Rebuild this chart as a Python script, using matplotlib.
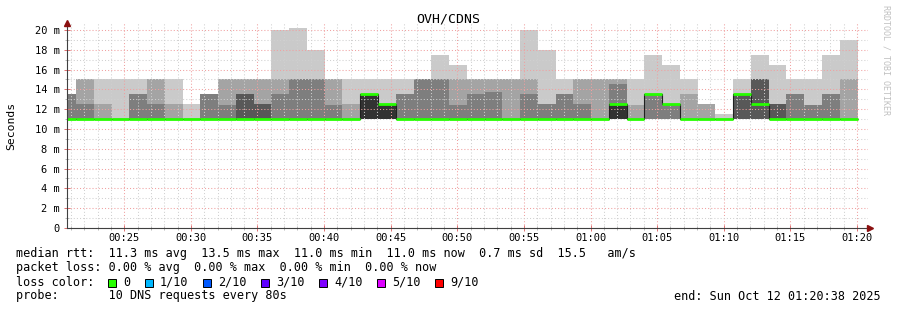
import numpy as np
import matplotlib.pyplot as plt
from matplotlib.patches import Rectangle
from matplotlib.ticker import MultipleLocator, FuncFormatter

plt.rcParams['font.family'] = ['DejaVu Sans Mono', 'DejaVu Sans']

W, H = 897, 310

# time axis in minutes after midnight, one sample every 80 s
step_min = 80 / 60
first_start = 20.045
window = (20.70, 80.83)

# 10 sorted ping times (ms) per 80 s step
pings = [
    [11]*7 + [13.5, 13.5, 13.5],
    [11]*7 + [12.5, 15, 15],
    [11]*8 + [12.5, 15],
    [11]*9 + [15],
    [11]*7 + [13.5, 13.5, 15],
    [11]*7 + [12.5, 15, 15],
    [11]*8 + [12.5, 15],
    [11]*9 + [12.5],
    [11]*7 + [13.5, 13.5, 13.5],
    [11]*7 + [12.4, 15, 15],
    [11]*6 + [13.5, 13.5, 15, 15],
    [11]*6 + [12.5, 12.5, 15, 15],
    [11]*7 + [13.5, 15, 20],
    [11]*7 + [15, 15, 20.2],
    [11]*7 + [15, 15, 18],
    [11]*7 + [12.4, 15, 15],
    [11]*8 + [12.5, 15],
    [11]*5 + [13.5, 13.5, 13.5, 13.5, 15],
    [11]*5 + [12.5, 12.5, 12.5, 12.5, 15],
    [11]*7 + [13.5, 13.5, 15],
    [11]*7 + [15, 15, 15],
    [11]*7 + [15, 15, 17.5],
    [11]*7 + [12.4, 15, 16.5],
    [11]*7 + [13.5, 15, 15],
    [11]*7 + [13.7, 15, 15],
    [11]*8 + [15, 15],
    [11]*7 + [13.5, 15, 20],
    [11]*7 + [12.5, 12.5, 18],
    [11]*7 + [13.5, 13.5, 15],
    [11]*7 + [12.5, 15, 15],
    [11]*8 + [15, 15],
    [11]*5 + [12.5, 12.5, 14.5, 15, 15],
    [11]*8 + [12.4, 15],
    [11]*3 + [13.5]*6 + [17.5],
    [11]*3 + [12.5]*6 + [16.5],
    [11]*8 + [13.5, 15],
    [11]*8 + [12.5, 12.5],
    [11]*9 + [11.5],
    [11]*4 + [13.5]*5 + [15],
    [11]*4 + [12.5, 12.5, 15, 15, 15, 17.5],
    [11]*6 + [12.5, 12.5, 12.5, 16.5],
    [11]*7 + [13.5, 13.5, 15],
    [11]*7 + [12.4, 12.4, 15],
    [11]*7 + [13.5, 13.5, 17.5],
    [11]*8 + [15, 19],
]

median = [11]*17 + [13.5, 12.5] + [11]*12 + [12.5, 11, 13.5, 12.5] + [11]*3 + [13.5, 12.5] + [11]*5

smoke_colors = ['#cacaca', '#a4a4a4', '#7e7e7e', '#585858', '#323232']
loss_labels = ['0', '1/10', '2/10', '3/10', '4/10', '5/10', '9/10']
loss_colors = ['#26ff00', '#00b8ff', '#0059ff', '#5e00ff', '#7e00ff', '#dd00ff', '#ff0000']

title = "OVH/CDNS"
stats_rtt = "median rtt:  11.3 ms avg  13.5 ms max  11.0 ms min  11.0 ms now  0.7 ms sd  15.5   am/s"
stats_loss = "packet loss: 0.00 % avg  0.00 % max  0.00 % min  0.00 % now"
probe_txt = "probe:       10 DNS requests every 80s"
end_txt = "end: Sun Oct 12 01:20:38 2025"

fig = plt.figure(figsize=(W/100, H/100), dpi=100)
ax = fig.add_axes([67/W, 82/H, 801/W, 205/H])

P = np.array(pings, dtype=float)
n = len(P)
edges = first_start + step_min*np.arange(n + 1)

# smoke: band between i-th lowest and i-th highest ping
for i, c in enumerate(smoke_colors):
    lo = P[:, i]
    hi = P[:, 9 - i]
    ax.fill_between(edges, np.append(lo, lo[-1]), np.append(hi, hi[-1]),
                    step='post', color=c, lw=0, zorder=1)

ax.stairs(median, edges, baseline=None, color='#202020', lw=0.8, zorder=3)
ax.hlines(median, edges[:-1], edges[1:], color=loss_colors[0], lw=2.0, zorder=4)

ax.set_xlim(*window)
ax.set_ylim(0, 20.7)
ax.xaxis.set_major_locator(MultipleLocator(5))
ax.xaxis.set_minor_locator(MultipleLocator(1))
ax.yaxis.set_major_locator(MultipleLocator(2))
ax.yaxis.set_minor_locator(MultipleLocator(1))
ax.xaxis.set_major_formatter(FuncFormatter(lambda v, p: "%02d:%02d" % (int(round(v)) // 60, int(round(v)) % 60)))
ax.yaxis.set_major_formatter(FuncFormatter(lambda v, p: "0" if v == 0 else "%g m" % v))

ax.set_axisbelow(False)
ax.grid(which='major', color='#f0a0a0', ls=(0, (1, 2)), lw=0.75)
ax.grid(which='minor', color='#d0d0d0', ls=(0, (1, 2)), lw=0.75)
ax.tick_params(which='major', direction='inout', length=4, width=0.7, color='#e07070',
               labelsize=7.5, pad=1.5)
ax.tick_params(axis='y', which='major', pad=3)
ax.tick_params(which='minor', direction='inout', length=3, width=0.7, color='#b8b8b8')

for s in ['top', 'right']:
    ax.spines[s].set_visible(False)
for s in ['left', 'bottom']:
    ax.spines[s].set_color('#404040')
    ax.spines[s].set_linewidth(0.8)
    ax.spines[s].set_zorder(5)

ax.plot([0], [1], marker='^', ms=4, color='#8b1010', transform=ax.transAxes, clip_on=False, zorder=6)
ax.plot([1.003], [0], marker='>', ms=4, color='#8b1010', transform=ax.transAxes, clip_on=False, zorder=6)

fig.text(448/W, 1 - 19/H, title, ha='center', va='center', fontsize=9.5)
fig.text(11/W, 1 - 126/H, 'Seconds', rotation=90, ha='center', va='center', fontsize=8.2)
fig.text(886/W, 1 - 60/H, 'RRDTOOL / TOBI OETIKER', rotation=270, ha='center', va='center',
         fontsize=6, color='#c0c0c0')

fs = 8.5
fig.text(16/W, 1 - 254/H, stats_rtt, va='center', fontsize=fs)
fig.text(16/W, 1 - 268/H, stats_loss, va='center', fontsize=fs)
fig.text(16/W, 1 - 282/H, "loss color:", va='center', fontsize=fs)
fig.text(16/W, 1 - 296/H, probe_txt, va='center', fontsize=fs)
fig.text(881/W, 1 - 296/H, end_txt, ha='right', va='center', fontsize=fs)

x = 108
for lab, col in zip(loss_labels, loss_colors):
    fig.patches.append(Rectangle((x/W, 1 - 286.5/H), 8/W, 8/H, transform=fig.transFigure,
                                 facecolor=col, edgecolor='black', lw=0.7))
    fig.text((x + 15)/W, 1 - 282/H, lab, va='center', fontsize=fs)
    x = x + 15 + len(lab)*7.15 + 14.5

fig.savefig('out.png', dpi=100)
